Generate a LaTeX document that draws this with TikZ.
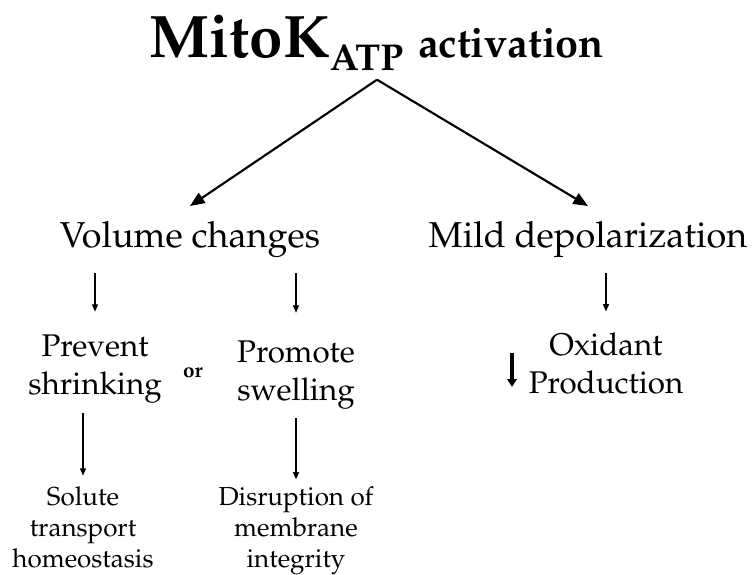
\documentclass[tikz,border=0pt]{standalone}
\usepackage[T1]{fontenc}
\usepackage{mathpazo}
\usetikzlibrary{arrows.meta,positioning}
\tikzstyle{lvlone}  =[font=\fontsize{27}{31}\selectfont, anchor=base,
                      inner sep=2pt]
\tikzstyle{lvltwo}  =[font=\fontsize{23.5}{28.5}\selectfont, align=center,
                      inner sep=2pt]
\tikzstyle{lvlthree}=[font=\fontsize{19.5}{23.25}\selectfont, align=center,
                      inner sep=2pt]
\tikzstyle{bigedge} =[-{Triangle[length=11pt,width=9pt]}, line width=1.6pt]
\tikzstyle{edge}    =[-{Triangle[length=5.5pt,width=4.5pt]}, line width=0.9pt]
\tikzstyle{dnarrow} =[-{Triangle[length=6pt,width=7pt]}, line width=2.3pt]

\begin{document}
\begin{tikzpicture}[x=0.75pt,y=-0.75pt]
        \useasboundingbox (0,0) rectangle (752,574);

        \node[anchor=base, inner sep=2pt] (title) at (377,58)
            {\bfseries\fontsize{45}{50}\selectfont MitoK%
             \raisebox{-9.75pt}{\fontsize{28}{32}\selectfont ATP}
             \fontsize{31}{36}\selectfont activation};

        \node[lvlone] (vol)  at (190,247) {Volume changes};
        \node[lvlone] (mild) at (588,247) {Mild depolarization};

        \node[lvltwo] (prev) at (95,368.6)  {Prevent\\shrinking};
        \node[lvltwo] (prom) at (296,374.6) {Promote\\swelling};
        \node[lvltwo] (oxi)  at (606,363.6) {Oxidant\\Production};
        \node[font=\bfseries\fontsize{15.5}{18}\selectfont, anchor=base] (or)
            at (193,377) {or};

        \node[lvlthree] (sol) at (83,527.5)
            {Solute\\transport\\homeostasis};
        \node[lvlthree] (dis) at (296,530.6)
            {Disruption of\\membrane\\integrity};

        \coordinate (dec) at (512,353);

        \draw[bigedge] ([yshift=-4pt]title.south) -- ([yshift=9pt]vol.north);
        \draw[bigedge] ([yshift=-4pt]title.south) -- ([yshift=9pt]mild.north);

        \draw[edge, shorten <=9.5pt, shorten >=14.8pt] (prev.north |- vol.south) -- (prev.north);
        \draw[edge, shorten <=9.5pt, shorten >=18.5pt] (prom.north |- vol.south) -- (prom.north);
        \draw[edge, shorten <=9.5pt, shorten >=13.9pt] (oxi.north |- mild.south) -- (oxi.north);

        \draw[edge, shorten <=5.6pt, shorten >=6.2pt] (sol.north |- prev.south) -- (sol.north);
        \draw[edge, shorten <=4.9pt, shorten >=3.2pt] (dis.north |- prom.south) -- (dis.north);

        \draw[dnarrow] (dec) -- ++(0,34);

\end{tikzpicture}
\end{document}
